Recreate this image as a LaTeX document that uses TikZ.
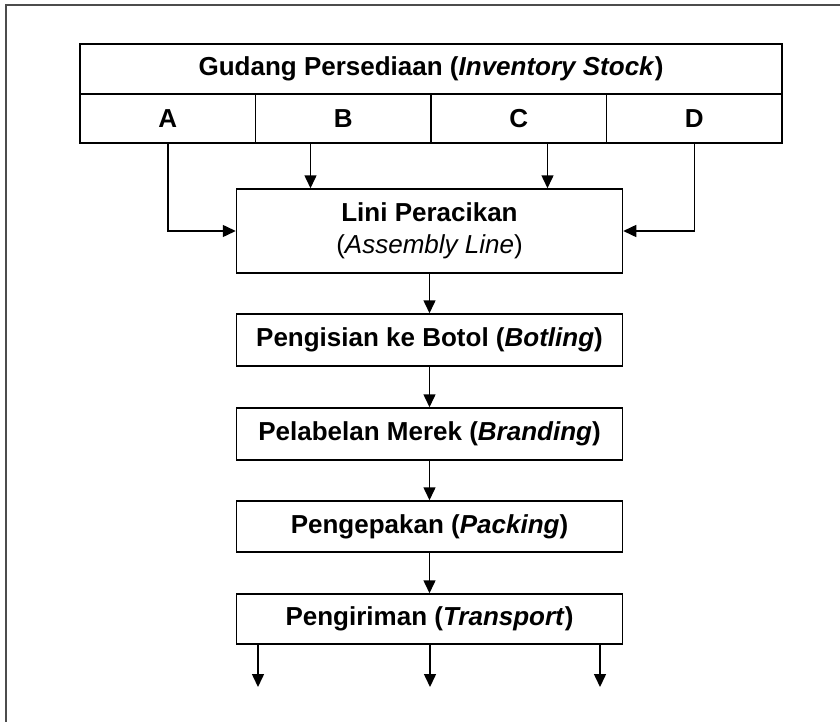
\documentclass[tikz,border=0pt]{standalone}
\usepackage{fontspec}
\setmainfont{Liberation Sans}
\usepackage{tikz}
\usetikzlibrary{arrows.meta, positioning, calc}

\begin{document}
\begin{tikzpicture}[x=0.5pt, y=-0.5pt, line width=0.75pt,
	every node/.style={font=\fontsize{13}{16}\selectfont\bfseries},
	kotak/.style={draw, inner sep=0pt, minimum width=193pt},
	sel/.style={draw, inner sep=0pt, outer sep=0pt, minimum width=87.75pt, minimum height=24.5pt},
	panah/.style={-{Triangle[length=6.5pt, width=6pt]}}]
			\useasboundingbox (0,0) rectangle (840,722);
			\draw [gray!60!black] (840,5) -- (6,5) -- (6,722);
			
			\node [draw, inner sep=0pt, outer sep=0pt, minimum width=351pt, minimum height=25pt] (gudang) at (431,69) {Gudang Persediaan (\textit{Inventory Stock})};
			\node [sel, anchor=north west] (A) at (gudang.south west) {A};
			\node [sel, right=0pt of A] (B) {B};
			\node [sel, right=0pt of B] (C) {C};
			\node [sel, right=0pt of C] (D) {D};
			
			\node [kotak, minimum height=42pt, align=center] (lini) at (429.5,231) {Lini Peracikan\\\mdseries(\textit{Assembly Line})};
			\node [kotak, minimum height=26pt] (botol) at (429.5,340) {Pengisian ke Botol (\textit{Botling})};
			\node [kotak, minimum height=26pt] (merek) at (429.5,434) {Pelabelan Merek (\textit{Branding})};
			\node [kotak, minimum height=25.5pt] (kemas) at (429.5,526.5) {Pengepakan (\textit{Packing})};
			\node [kotak, minimum height=25pt] (kirim) at (429.5,619) {Pengiriman (\textit{Transport})};
			
			\draw [panah] (A.south) |- (lini.west);
			\draw [panah] (D.south) |- (lini.east);
			\draw [panah] ([xshift=-59.5pt]lini.north |- B.south) -- ([xshift=-59.5pt]lini.north);
			\draw [panah] ([xshift=59pt]lini.north |- C.south) -- ([xshift=59pt]lini.north);
			
			\draw [panah] (lini) -- (botol);
			\draw [panah] (botol) -- (merek);
			\draw [panah] (merek) -- (kemas);
			\draw [panah] (kemas) -- (kirim);
			
			\coordinate (out1) at (258,687);
			\coordinate (out2) at (430,687);
			\coordinate (out3) at (600,687);
			\foreach \o in {out1, out2, out3}
				\draw [panah] (\o |- kirim.south) -- (\o);
\end{tikzpicture}
\end{document}
